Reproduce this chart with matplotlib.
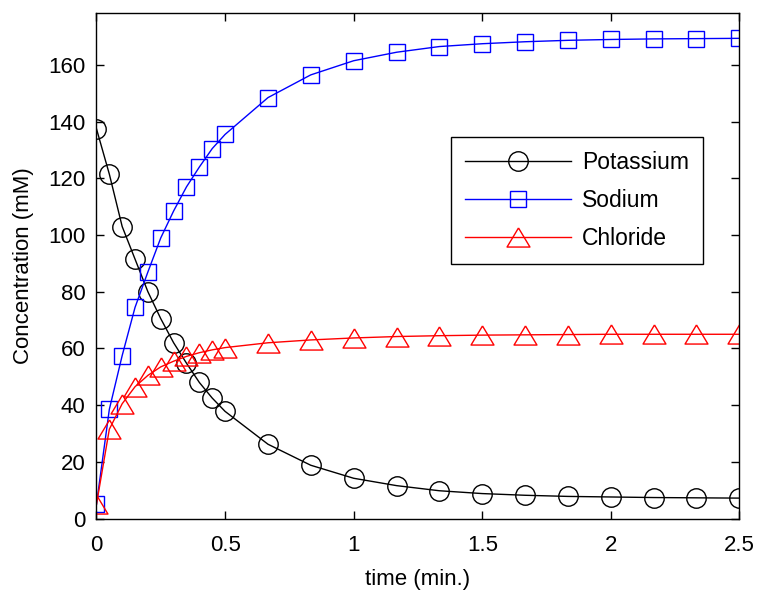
import matplotlib
matplotlib.use("Agg")
import matplotlib.pyplot as plt

plt.rcParams["font.family"] = ["Liberation Sans", "DejaVu Sans"]

# ── data ───────────────────────────────────────────────────
time = [0, 0.05, 0.1, 0.15, 0.2, 0.25, 0.3, 0.35, 0.4, 0.45, 0.5,
        0.667, 0.833, 1.0, 1.167, 1.333, 1.5, 1.667, 1.833, 2.0, 2.167, 2.333, 2.5]

potassium = [137.5, 121.5, 103.0, 91.5, 80.0, 70.5, 62.0, 54.8, 48.0, 42.5, 37.8,
             26.2, 18.8, 14.2, 11.6, 9.8, 8.8, 8.2, 7.8, 7.6, 7.4, 7.3, 7.2]
sodium = [5.0, 38.5, 57.5, 74.5, 87.0, 99.0, 108.5, 117.0, 124.0, 130.5, 135.5,
          148.5, 156.5, 161.5, 164.5, 166.5, 167.5, 168.2, 168.7, 169.0, 169.2, 169.3, 169.4]
chloride = [5.0, 31.5, 40.5, 46.5, 50.5, 53.5, 55.5, 57.2, 58.5, 59.5, 60.3,
            62.0, 63.0, 63.7, 64.2, 64.5, 64.7, 64.8, 64.9, 65.0, 65.0, 65.0, 65.0]

FS = 16
# wide, MATLAB-like triangle
TRI = [(0, 1), (-1.2, -1), (1.2, -1), (0, 1)]

fig = plt.figure(figsize=(7.62, 5.96), dpi=100)
ax = fig.add_axes([0.1266, 0.130, 0.8438, 0.848])

ax.plot(time, potassium, color="black", lw=1.0, marker="o", ms=14,
        mfc="none", mew=1.0, label="Potassium")
ax.plot(time, sodium, color="blue", lw=1.0, marker="s", ms=11,
        mfc="none", mew=1.0, label="Sodium")
ax.plot(time, chloride, color="red", lw=1.0, marker=TRI, ms=16.5,
        mfc="none", mew=1.0, label="Chloride")

ax.set_xlim(0, 2.5)
ax.set_ylim(0, 178.3)
ax.set_xticks([0, 0.5, 1, 1.5, 2, 2.5])
ax.set_xticklabels(["0", "0.5", "1", "1.5", "2", "2.5"])
ax.set_yticks(range(0, 161, 20))

ax.tick_params(direction="in", top=True, right=True, length=6, width=1,
               labelsize=FS)
ax.tick_params(axis="x", pad=12)
ax.tick_params(axis="y", pad=8)
for sp in ax.spines.values():
    sp.set_linewidth(1.0)
    sp.set_clip_on(False)

ax.set_xlabel("time (min.)", fontsize=FS, labelpad=9)
ax.set_ylabel("Concentration (mM)", fontsize=FS, labelpad=10)

leg = ax.legend(loc="upper left", bbox_to_anchor=(0.552, 0.754), fontsize=16.5,
                handlelength=4.6, handletextpad=0.5, labelspacing=0.66,
                borderpad=0.6, borderaxespad=0, fancybox=False,
                framealpha=1, edgecolor="black")
leg.get_frame().set_linewidth(1.0)

fig.savefig("out.png", dpi=100)
